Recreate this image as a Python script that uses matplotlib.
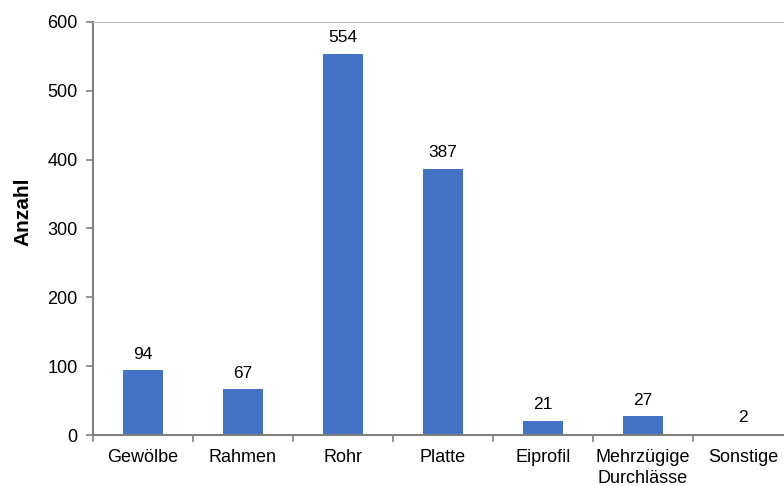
import matplotlib
matplotlib.use("Agg")
import matplotlib.pyplot as plt

categories = ["Gewölbe", "Rahmen", "Rohr", "Platte", "Eiprofil", "Mehrzügige\nDurchlässe", "Sonstige"]
values = [94, 67, 554, 387, 21, 27, 2]
yticks = [0, 100, 200, 300, 400, 500, 600]

plt.rcParams['font.family'] = ['Liberation Sans', 'DejaVu Sans']

fig = plt.figure(figsize=(7.84, 4.86), dpi=100)
ax = fig.add_axes([93/784, 51/486, 700/784, 413/486])

x = list(range(len(categories)))
ax.bar(x, values, width=0.4, color="#4472C4", edgecolor="none", zorder=2)
for xi, v in zip(x, values):
    ax.text(xi, v + 12, str(v), ha="center", va="bottom", fontsize=12.5, color="black")

ax.set_xlim(-0.5, len(categories) - 0.5)
ax.set_ylim(0, 600)
ax.set_yticks(yticks)
ax.set_yticklabels([str(t) for t in yticks], fontsize=13)
ax.set_xticks(x)
ax.set_xticklabels(categories, fontsize=13, linespacing=1.3)
ax.set_xticks([i + 0.5 for i in range(-1, len(categories))], minor=True)
ax.tick_params(axis="x", which="major", length=0, pad=10)
ax.tick_params(axis="x", which="minor", length=5, color="#808080", width=1.2, direction="out")
ax.tick_params(axis="y", length=5, color="#808080", width=1.2, direction="out", pad=6)

for s in ["left", "bottom"]:
    ax.spines[s].set_color("#808080")
    ax.spines[s].set_linewidth(1.5)
ax.spines["top"].set_color("#BFBFBF")
ax.spines["top"].set_linewidth(0.8)
ax.spines["right"].set_visible(False)

ax.set_ylabel("Anzahl", fontsize=15, fontweight="bold")
ax.yaxis.set_label_coords((32 - 93) / 700, (435 - 212) / 413)

fig.savefig("out.png", dpi=100)
